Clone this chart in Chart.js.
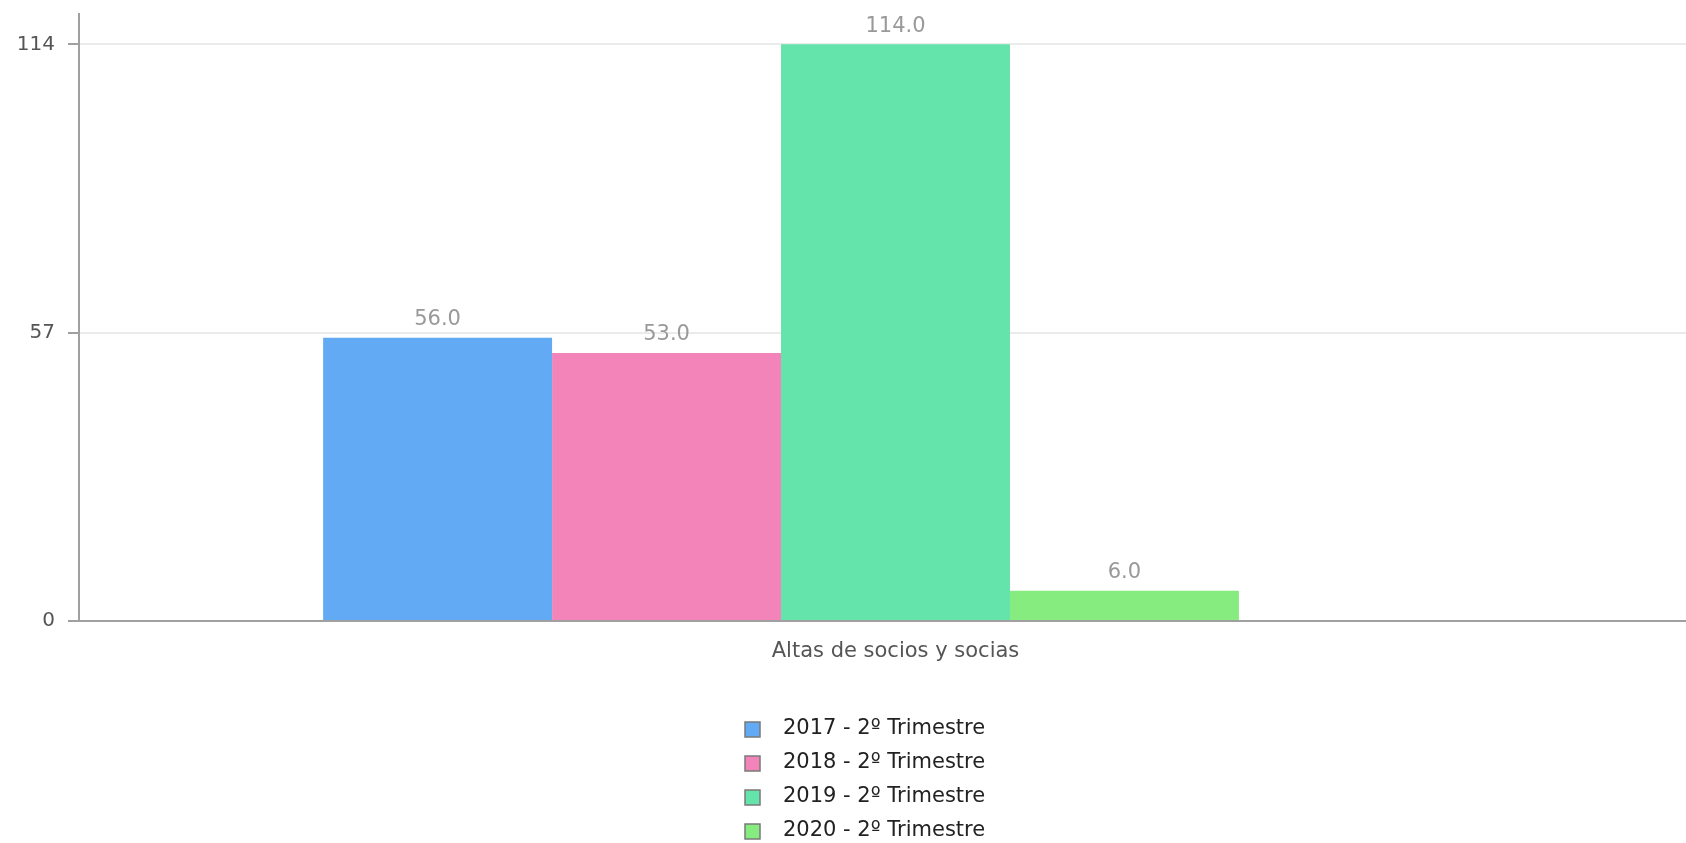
<!DOCTYPE html>
<html>
<head>
<meta charset="utf-8">
<title>Altas de socios y socias</title>
<script src="https://cdn.jsdelivr.net/npm/chart.js@4/dist/chart.umd.min.js"></script>
<style>
  html, body { margin: 0; padding: 0; background: #fff; overflow: hidden; }
  canvas { display: block; }
</style>
</head>
<body>
<!-- the original plot runs a little past the right edge of the window -->
<canvas id="chart" width="1712" height="843"></canvas>
<script>
// Chart data
const categories = ['Altas de socios y socias'];
const seriesLabels = ['2017 - 2º Trimestre', '2018 - 2º Trimestre', '2019 - 2º Trimestre', '2020 - 2º Trimestre'];
const seriesValues = [[56], [53], [114], [6]];
const seriesColors = ['#62aaf4', '#f284b9', '#64e3aa', '#87ec80'];
const yTicks = [0, 57, 114];
const yMax = 120;

const FONT = '"DejaVu Sans", sans-serif';
Chart.defaults.font.family = FONT;

const datasets = seriesLabels.map((label, i) => ({
  label: label,
  data: seriesValues[i],
  backgroundColor: seriesColors[i],
  borderWidth: 0
}));
// empty slot after the last series (the original leaves room for one more bar)
datasets.push({ label: '', data: [null], backgroundColor: 'transparent' });

// value labels above every bar
const valueLabels = {
  id: 'valueLabels',
  afterDatasetsDraw(chart) {
    const ctx = chart.ctx;
    ctx.save();
    ctx.font = '21px ' + FONT;
    ctx.fillStyle = '#999999';
    ctx.textAlign = 'center';
    ctx.textBaseline = 'middle';
    chart.data.datasets.forEach((ds, i) => {
      chart.getDatasetMeta(i).data.forEach((bar, j) => {
        const v = ds.data[j];
        if (v === null || v === undefined) return;
        ctx.fillText(v.toFixed(1), bar.x, bar.y - 18);
      });
    });
    ctx.restore();
  }
};

// one-per-line legend under the axis
const listLegend = {
  id: 'listLegend',
  afterDraw(chart, args, opts) {
    const ctx = chart.ctx;
    ctx.save();
    ctx.font = '21px ' + FONT;
    ctx.textAlign = 'left';
    ctx.textBaseline = 'middle';
    chart.data.datasets.forEach((ds, i) => {
      if (!ds.label) return;
      const y = opts.top + i * opts.rowHeight;
      ctx.fillStyle = ds.backgroundColor;
      ctx.fillRect(opts.left, y - 7, 15, 15);
      ctx.strokeStyle = '#7a7a7a';
      ctx.lineWidth = 1.5;
      ctx.strokeRect(opts.left, y - 7, 15, 15);
      ctx.fillStyle = '#222222';
      ctx.fillText(ds.label, opts.left + 38, y);
    });
    ctx.restore();
  }
};

new Chart(document.getElementById('chart'), {
  type: 'bar',
  data: { labels: categories, datasets: datasets },
  plugins: [valueLabels, listLegend],
  options: {
    responsive: false,
    animation: false,
    devicePixelRatio: 1,
    categoryPercentage: 0.701,
    barPercentage: 1,
    layout: { padding: { top: 14, right: 0, bottom: 0, left: 0 } },
    plugins: {
      legend: { display: false },
      tooltip: { enabled: false },
      listLegend: { left: 745, top: 729, rowHeight: 34 }
    },
    scales: {
      x: {
        grid: { display: false, drawTicks: false },
        border: { color: '#a0a0a0', width: 2 },
        ticks: { color: '#555555', font: { size: 21 }, padding: 18 },
        afterFit: s => { s.height = 222; }
      },
      y: {
        min: 0,
        max: yMax,
        afterBuildTicks: s => { s.ticks = yTicks.map(v => ({ value: v })); },
        afterFit: s => { s.width = 79; s.paddingTop = 0; s.paddingBottom = 0; },
        ticks: { color: '#555555', font: { size: 20 }, padding: 13 },
        grid: { color: '#ebebeb', lineWidth: 2, tickLength: 11, tickColor: '#a0a0a0', tickWidth: 2 },
        border: { color: '#a0a0a0', width: 2 }
      }
    }
  }
});
</script>
</body>
</html>
